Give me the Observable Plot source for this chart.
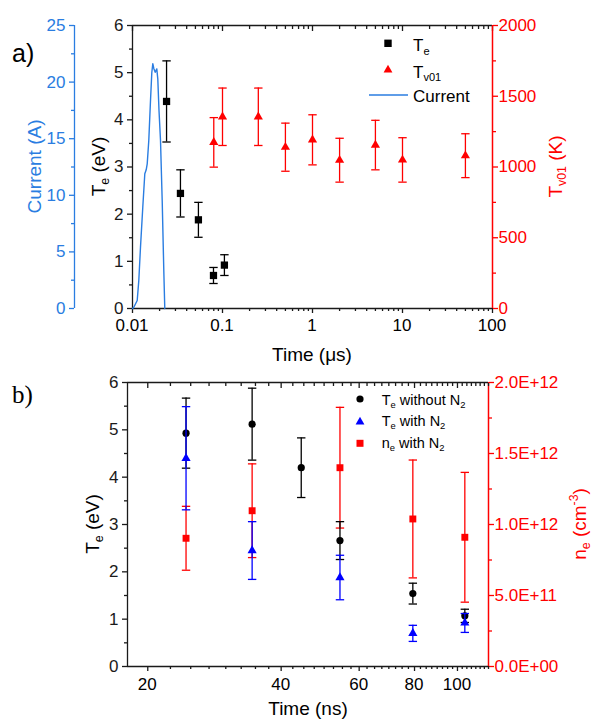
<!DOCTYPE html>
<html><head><meta charset="utf-8">
<script src="https://cdn.jsdelivr.net/npm/d3@7"></script>
<script src="https://cdn.jsdelivr.net/npm/@observablehq/plot@0.6"></script>
<style>
body{margin:0;background:#fff;}
#root{position:relative;width:593px;height:720px;overflow:hidden;background:#fff;}
.panel{position:absolute;left:0;width:593px;height:360px;}
#ov{position:absolute;left:0;top:0;pointer-events:none;}
.xl{position:absolute;font:17px 'Liberation Sans',Arial,sans-serif;line-height:17px;color:#000;transform:translateX(-50%);white-space:nowrap;z-index:5;}
</style></head><body><div id="root">
<div class="panel" id="pa" style="top:0"></div>
<div class="panel" id="pb" style="top:360px"></div>
</div>
<script>
// ---------------- Panel a data ----------------
const curTime = [0.0100, 0.01034, 0.01128, 0.01175, 0.01227, 0.01301, 0.01370, 0.01420, 0.01457, 0.01517, 0.01585, 0.01639, 0.01681, 0.01725, 0.01787, 0.01862, 0.01910, 0.01970, 0.02047, 0.02138, 0.02227, 0.02284];
const curAmp  = [0, 0.11, 0.71, 2.47, 5.42, 8.95, 11.90, 12.25, 12.78, 14.84, 18.37, 20.85, 21.62, 21.2, 20.87, 21.17, 20.29, 17.49, 14.84, 9.54, 3.36, 0];
const teTimeUs = [0.0239, 0.0341, 0.054, 0.0794, 0.105];
const teEv     = [4.39, 2.44, 1.88, 0.70, 0.92];
const teErr    = [0.86, 0.50, 0.37, 0.17, 0.22];
const tvTimeUs = [0.08, 0.1, 0.25, 0.5, 1, 2, 5, 10, 50];
const tvK      = [1174, 1355, 1355, 1140, 1192, 1048, 1155, 1050, 1080];
const tvErr    = [175, 203, 203, 170, 177, 155, 175, 157, 155];
const timeTicksA = [0.01, 0.1, 1, 10, 100];
const teTicks  = [0, 1, 2, 3, 4, 5, 6];
const curTicks = [0, 5, 10, 15, 20, 25];
const tvTicks  = [0, 500, 1000, 1500, 2000];

// ---------------- Panel b data ----------------
const timeNs     = [24.4, 34.4, 44.4, 54.3, 79.3, 103.9];
const teNoN2     = [4.93, 5.12, 4.20, 2.66, 1.54, 1.07];
const teNoN2Err  = [0.74, 0.76, 0.63, 0.40, 0.22, 0.14];
const timeN2     = [24.4, 34.4, 54.3, 79.3, 103.9];
const teN2       = [4.40, 2.45, 1.88, 0.70, 0.92];
const teN2Err    = [1.09, 0.61, 0.47, 0.17, 0.20];
const neN2       = [0.903e12, 1.097e12, 1.40e12, 1.039e12, 0.91e12];
const neN2Err    = [0.225e12, 0.33e12, 0.425e12, 0.415e12, 0.457e12];
const timeTicksB = [20, 40, 60, 80, 100];
const neTicks    = [0, 0.5e12, 1e12, 1.5e12, 2e12];

// ---------------- helpers ----------------
const W = 593;
const SANS = "'Liberation Sans', Arial, Helvetica, sans-serif";
const SERIF = "'Liberation Serif', 'Times New Roman', serif";
const svgStyle = `position:absolute;left:0;top:0;background:transparent;overflow:visible;font-family:${SANS};`;
const AX = "#1a1a1a", RED = "#ff0000", CUR = "#2a7de1", BLUE = "#0000ff";
const SW = 1.3;

const rows = (xs, vs, es) => xs.map((t, i) => ({t, v: vs[i], e: es ? es[i] : 0}));
const capSym = {draw(ctx, size) { const w = Math.sqrt(size / Math.PI); ctx.moveTo(-w, 0); ctx.lineTo(w, 0); }};
function errorBars(data, color, half = 4.2) {
  return [
    Plot.ruleX(data, {x: "t", y1: d => d.v - d.e, y2: d => d.v + d.e, stroke: color, strokeWidth: SW}),
    Plot.dot(data, {x: "t", y: d => d.v - d.e, symbol: capSym, r: half, stroke: color, fill: "none", strokeWidth: SW}),
    Plot.dot(data, {x: "t", y: d => d.v + d.e, symbol: capSym, r: half, stroke: color, fill: "none", strokeWidth: SW})
  ];
}
const minorLog = [];
for (const e of [-2, -1, 0, 1]) for (let m = 2; m <= 9; m++) minorLog.push(+(m * 10 ** e).toPrecision(3));
const halfTicks = [0.5, 1.5, 2.5, 3.5, 4.5, 5.5];
const minorB = d3.range(20, 117.6, 2.5).filter(v => v % 20 !== 0);
function sci(v) {
  if (v === 0) return "0.0E+00";
  const e = Math.floor(Math.log10(v) + 1e-9);
  return (v / 10 ** e).toFixed(1) + "E+" + String(e).padStart(2, "0");
}
function xAxes(major, minor) {
  return [
    Plot.axisX(major, {anchor: "bottom", tickSize: 5, fill: "none", stroke: AX, label: null, strokeWidth: SW}),
    Plot.axisX(minor, {anchor: "bottom", tickSize: 3, fill: "none", stroke: AX, label: null, strokeWidth: SW}),
    Plot.axisX(major, {anchor: "top", tickSize: 5, dy: 5, fill: "none", stroke: AX, label: null, strokeWidth: SW}),
    Plot.axisX(minor, {anchor: "top", tickSize: 3, dy: 3, fill: "none", stroke: AX, label: null, strokeWidth: SW})
  ];
}

// ---------------- Panel a ----------------
const mA = {width: W, height: 360, marginLeft: 132, marginRight: 101, marginTop: 25, marginBottom: 52, style: svgStyle};
const xA = {type: "log", domain: [0.01, 100]};
const xAnoAxis = {...xA, axis: null};
const pa = document.getElementById("pa");

const teRowsA = rows(teTimeUs, teEv, teErr);
const plotA = Plot.plot({...mA, x: xA, y: {domain: [0, 6]}, marks: [
  Plot.ruleX([0.01], {stroke: AX, strokeWidth: SW}),
  Plot.ruleY([0, 6], {stroke: AX, strokeWidth: SW}),
  ...xAxes(timeTicksA, minorLog),
  Plot.axisY(teTicks, {anchor: "left", tickSize: 5, tickPadding: 4, fontSize: 17, label: null, color: AX, strokeWidth: SW}),
  Plot.axisY(halfTicks, {anchor: "left", tickSize: 3, fill: "none", stroke: AX, label: null, strokeWidth: SW}),
  ...errorBars(teRowsA, "#000"),
  Plot.dot(teRowsA, {x: "t", y: "v", symbol: "square", r: 4.1, fill: "#000"})
]});
pa.appendChild(plotA);

const curRows = rows(curTime, curAmp);
pa.appendChild(Plot.plot({...mA, x: xAnoAxis, y: {domain: [0, 25]}, marks: [
  Plot.ruleX([0.01], {dx: -58, stroke: CUR, strokeWidth: SW}),
  Plot.axisY(curTicks, {anchor: "left", dx: -58, tickSize: 5, tickPadding: 4, fontSize: 17, label: null, color: CUR, strokeWidth: SW}),
  Plot.axisY([2.5, 7.5, 12.5, 17.5, 22.5], {anchor: "left", dx: -58, tickSize: 3, fill: "none", stroke: CUR, label: null, strokeWidth: SW}),
  Plot.line(curRows, {x: "t", y: "v", stroke: CUR, strokeWidth: 1.4})
]}));

const tvRows = rows(tvTimeUs, tvK, tvErr);
pa.appendChild(Plot.plot({...mA, x: xAnoAxis, y: {domain: [0, 2000]}, marks: [
  Plot.ruleX([100], {stroke: RED, strokeWidth: 1.5}),
  Plot.axisY(tvTicks, {anchor: "right", tickSize: 5, tickPadding: 1, tickFormat: d => String(d), fontSize: 17, label: null, color: RED, strokeWidth: SW}),
  Plot.axisY([250, 750, 1250, 1750], {anchor: "right", tickSize: 3, fill: "none", stroke: RED, label: null, strokeWidth: SW}),
  ...errorBars(tvRows, RED),
  Plot.dot(tvRows, {x: "t", y: "v", symbol: "triangle", r: 3.4, fill: RED})
]}));

// ---------------- Panel b ----------------
const mB = {width: W, height: 360, marginLeft: 127, marginRight: 105, marginTop: 22, marginBottom: 54, style: svgStyle};
const xB = {type: "log", domain: [18, 117.5]};
const pb = document.getElementById("pb");

const neRows = rows(timeN2, neN2, neN2Err);
pb.appendChild(Plot.plot({...mB, x: {...xB, axis: null}, y: {domain: [0, 2e12]}, marks: [
  Plot.ruleX([117.5], {stroke: RED, strokeWidth: 1.5}),
  Plot.axisY(neTicks, {anchor: "right", tickSize: 5, tickPadding: 1, tickFormat: sci, fontSize: 17, label: null, color: RED, strokeWidth: SW}),
  Plot.axisY([0.25e12, 0.75e12, 1.25e12, 1.75e12], {anchor: "right", tickSize: 3, fill: "none", stroke: RED, label: null, strokeWidth: SW}),
  ...errorBars(neRows, RED),
  Plot.dot(neRows, {x: "t", y: "v", symbol: "square", r: 3.9, fill: RED})
]}));

const noRows = rows(timeNs, teNoN2, teNoN2Err);
const n2Rows = rows(timeN2, teN2, teN2Err);
const plotB = Plot.plot({...mB, x: xB, y: {domain: [0, 6]}, marks: [
  Plot.ruleX([18], {stroke: AX, strokeWidth: SW}),
  Plot.ruleY([0, 6], {stroke: AX, strokeWidth: SW}),
  ...xAxes(timeTicksB, minorB),
  Plot.axisY(teTicks, {anchor: "left", tickSize: 5, tickPadding: 4, fontSize: 17, label: null, color: AX, strokeWidth: SW}),
  Plot.axisY(halfTicks, {anchor: "left", tickSize: 3, fill: "none", stroke: AX, label: null, strokeWidth: SW}),
  ...errorBars(noRows, "#000"),
  Plot.dot(noRows, {x: "t", y: "v", symbol: "circle", r: 3.6, fill: "#000"}),
  ...errorBars(n2Rows, BLUE),
  Plot.dot(n2Rows, {x: "t", y: "v", symbol: "triangle", r: 3.4, fill: BLUE})
]});
pb.appendChild(plotB);

// ---------------- x tick labels (HTML), placed with each panel's own Plot x scale ----------------
const root = document.getElementById("root");
function xLabel(text, x, top) {
  const d = document.createElement("div");
  d.className = "xl"; d.textContent = text;
  d.style.left = x + "px"; d.style.top = top + "px";
  root.appendChild(d);
}
const sxA = plotA.scale("x"), sxB = plotB.scale("x");
for (const v of timeTicksA) xLabel(String(v), sxA.apply(v), 316.8);
for (const v of timeTicksB) xLabel(String(v), sxB.apply(v), 675.5);

// ---------------- titles, legends (overlay) ----------------
const NS = "http://www.w3.org/2000/svg";
function el(tag, attrs, parent) { const e = document.createElementNS(NS, tag); for (const k in attrs) e.setAttribute(k, attrs[k]); if (parent) parent.appendChild(e); return e; }
const ov = el("svg", {id: "ov", width: W, height: 720}, root);
function rich(x, y, parts, {fs = 17, fill = "#000", anchor = "start", rotate = false, family = SANS} = {}) {
  const t = el("text", {"font-size": fs, fill, "text-anchor": anchor, "font-family": family,
    transform: `translate(${x},${y})` + (rotate ? " rotate(-90)" : ""), style: "white-space:pre"}, ov);
  let shift = 0;
  for (const p of parts) {
    const [s, kind] = typeof p === "string" ? [p, null] : p;
    const target = kind === "sub" ? 0.22 * fs : kind === "sup" ? -0.42 * fs : 0;
    const ts = el("tspan", {dy: target - shift}, t);
    if (kind) ts.setAttribute("font-size", 0.65 * fs);
    ts.textContent = s;
    shift = target;
  }
  return t;
}
const TF = 19, rc = c => c + 0.358 * TF;
// panel a
rich(12, 61.5, ["a)"], {fs: 25});
rich(rc(34), 166.5, ["Current (A)"], {fs: TF, fill: CUR, anchor: "middle", rotate: true});
rich(rc(98), 166.5, ["T", ["e", "sub"], " (eV)"], {fs: TF, anchor: "middle", rotate: true});
rich(rc(555), 166.5, ["T", ["v01", "sub"], " (K)"], {fs: TF, fill: RED, anchor: "middle", rotate: true});
rich(312, 361, ["Time (\u03bcs)"], {fs: TF, anchor: "middle"});
el("rect", {x: 388 - 3.7, y: 43.3 - 3.7, width: 7.4, height: 7.4, fill: "#000"}, ov);
el("path", {d: "M388,64.8 L383.6,72.4 L392.4,72.4 Z", fill: RED}, ov);
el("line", {x1: 369, x2: 408, y1: 95, y2: 95, stroke: CUR, "stroke-width": 1.4}, ov);
rich(413, 51, ["T", ["e", "sub"]], {fs: 17});
rich(413, 77.5, ["T", ["v01", "sub"]], {fs: 17});
rich(413, 101.6, ["Current"], {fs: 17});
// panel b
rich(12, 402.7, ["b)"], {fs: 25, family: SERIF});
rich(rc(92), 524, ["T", ["e", "sub"], " (eV)"], {fs: TF, anchor: "middle", rotate: true});
rich(rc(579), 524, ["n", ["e", "sub"], " (cm", ["-3", "sup"], ")"], {fs: TF, fill: RED, anchor: "middle", rotate: true});
rich(308, 715, ["Time (ns)"], {fs: TF, anchor: "middle"});
el("circle", {cx: 360, cy: 399, r: 3.6, fill: "#000"}, ov);
el("path", {d: "M360,416.8 L355.6,424.4 L364.4,424.4 Z", fill: BLUE}, ov);
el("rect", {x: 360 - 3.5, y: 443.3 - 3.5, width: 7, height: 7, fill: RED}, ov);
rich(381.7, 404.5, ["T", ["e", "sub"], " without N", ["2", "sub"]], {fs: 14.5});
rich(381.7, 426, ["T", ["e", "sub"], " with N", ["2", "sub"]], {fs: 14.5});
rich(381.7, 447.5, ["n", ["e", "sub"], " with N", ["2", "sub"]], {fs: 14.5});
</script></body></html>
